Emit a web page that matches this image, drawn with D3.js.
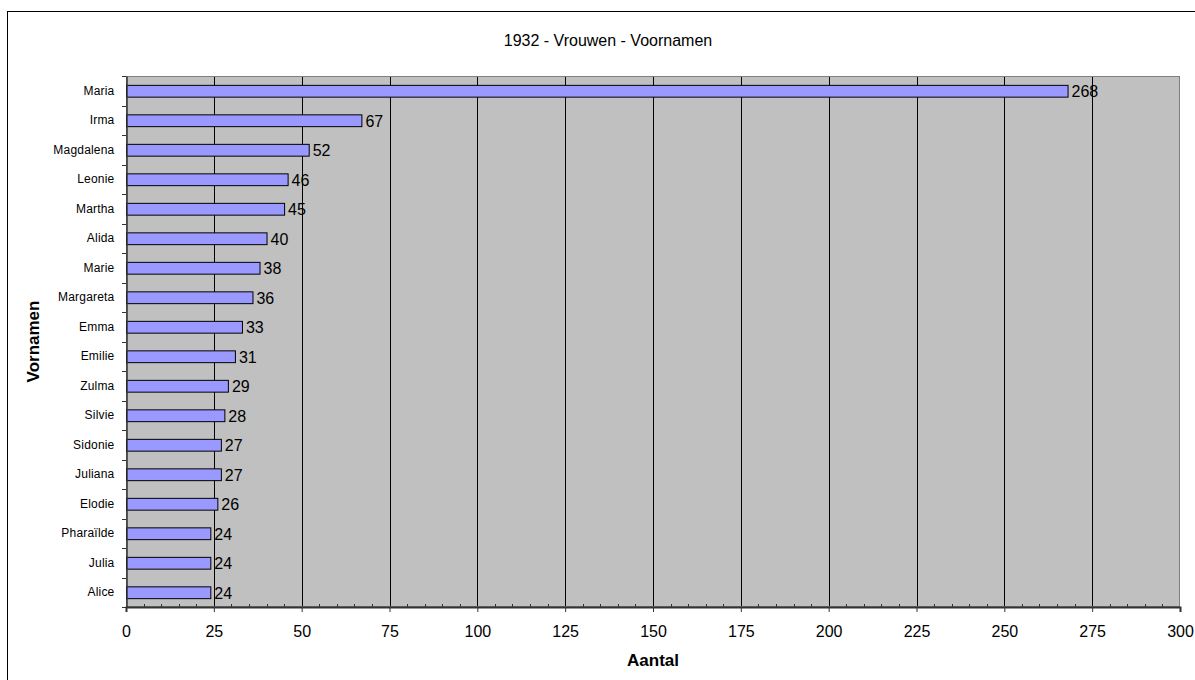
<!DOCTYPE html>
<html><head><meta charset="utf-8">
<script src="https://cdn.jsdelivr.net/npm/d3@7"></script>
<style>
html,body{margin:0;padding:0;background:#fff;}
svg{display:block;font-family:"Liberation Sans",Arial,sans-serif;}
</style></head>
<body>
<svg id="chart" width="1195" height="680"></svg>
<script>
const names = ["Maria","Irma","Magdalena","Leonie","Martha","Alida","Marie","Margareta","Emma","Emilie","Zulma","Silvie","Sidonie","Juliana","Elodie","Pharaïlde","Julia","Alice"];
const counts = [268,67,52,46,45,40,38,36,33,31,29,28,27,27,26,24,24,24];
const xTicks = [0,25,50,75,100,125,150,175,200,225,250,275,300];
const minorTicks = d3.range(0,301,5);
const titleText = "1932 - Vrouwen - Voornamen";
const xTitle = "Aantal";
const yTitle = "Vornamen";

const svg = d3.select("#chart");
const L = 126, R = 1180, T = 76, B = 607;

// outer frame
svg.append("rect").attr("x",7.5).attr("y",11.5).attr("width",1300).attr("height",800)
  .attr("fill","#fff").attr("stroke","#000").attr("stroke-width",1);

const x = d3.scaleLinear().domain([0,300]).range([L,R]);
const y = d3.scaleBand().domain(names).range([T,B]).paddingInner(0.6).paddingOuter(0.3);
const yb = d3.scaleBand().domain(names).range([T,B]);

// plot background
svg.append("rect").attr("x",L).attr("y",T).attr("width",R-L).attr("height",B-T).attr("fill","#C0C0C0");

// gridlines
svg.append("g").selectAll("line").data(xTicks.slice(1,-1)).join("line")
  .attr("x1",d=>Math.round(x(d))+0.5).attr("x2",d=>Math.round(x(d))+0.5)
  .attr("y1",T).attr("y2",B).attr("stroke","#000").attr("stroke-width",1);

// plot border
svg.append("rect").attr("x",L+0.5).attr("y",T+0.5).attr("width",R-L-1).attr("height",B-T-1)
  .attr("fill","none").attr("stroke","#808080").attr("stroke-width",1);

// bars
svg.append("g").selectAll("rect").data(names).join("rect")
  .attr("x",x(0)+0.5).attr("y",(d)=>y(d)+0.5)
  .attr("width",(d,i)=>x(counts[i])-x(0))
  .attr("height",y.bandwidth())
  .attr("fill","#9999FF").attr("stroke","#000").attr("stroke-width",1);

// value labels
svg.append("g").selectAll("text").data(names).join("text")
  .attr("x",(d,i)=>x(counts[i])+4)
  .attr("y",d=>y(d)+y.bandwidth()/2+1)
  .attr("dy","0.35em")
  .attr("font-size",16).attr("fill","#000")
  .text((d,i)=>counts[i]);

// y axis
const yAxis = d3.axisLeft(yb).tickSize(0).tickPadding(12);
const gy = svg.append("g").attr("transform",`translate(${L+0.5},0)`).call(yAxis);
gy.select(".domain").attr("stroke","#333").attr("stroke-width",1.5);
gy.selectAll("text").attr("font-size",12).attr("letter-spacing","0.2px").attr("font-family","Liberation Sans, Arial, sans-serif").attr("fill","#000");
// y ticks at band boundaries
svg.append("g").selectAll("line").data(d3.range(names.length+1)).join("line")
  .attr("x1",L-4).attr("x2",L)
  .attr("y1",i=>Math.round(T+i*yb.step())+0.5).attr("y2",i=>Math.round(T+i*yb.step())+0.5)
  .attr("stroke","#333").attr("stroke-width",1);

// x axis
const xAxis = d3.axisBottom(x).tickValues(xTicks).tickSize(5).tickPadding(14).tickFormat(d3.format("d"));
const gx = svg.append("g").attr("transform",`translate(0,${B})`).call(xAxis);
gx.select(".domain").attr("stroke","#333").attr("stroke-width",2);
gx.selectAll(".tick line").attr("stroke","#333");
gx.selectAll("text").attr("font-size",16).attr("font-family","Liberation Sans, Arial, sans-serif").attr("fill","#000");
// minor ticks (inside)
svg.append("g").selectAll("line").data(minorTicks.filter(d=>d%25!==0)).join("line")
  .attr("x1",d=>Math.round(x(d))+0.5).attr("x2",d=>Math.round(x(d))+0.5)
  .attr("y1",B-3).attr("y2",B).attr("stroke","#333").attr("stroke-width",1);

// titles
svg.append("text").attr("x",608).attr("y",46).attr("text-anchor","middle")
  .attr("font-size",16).text(titleText);
svg.append("text").attr("x",(L+R)/2).attr("y",666).attr("text-anchor","middle")
  .attr("font-size",17).attr("font-weight","bold").text(xTitle);
svg.append("text").attr("transform",`translate(39,${(T+B)/2}) rotate(-90)`).attr("text-anchor","middle")
  .attr("font-size",17).attr("font-weight","bold").text(yTitle);
</script>
</body></html>
